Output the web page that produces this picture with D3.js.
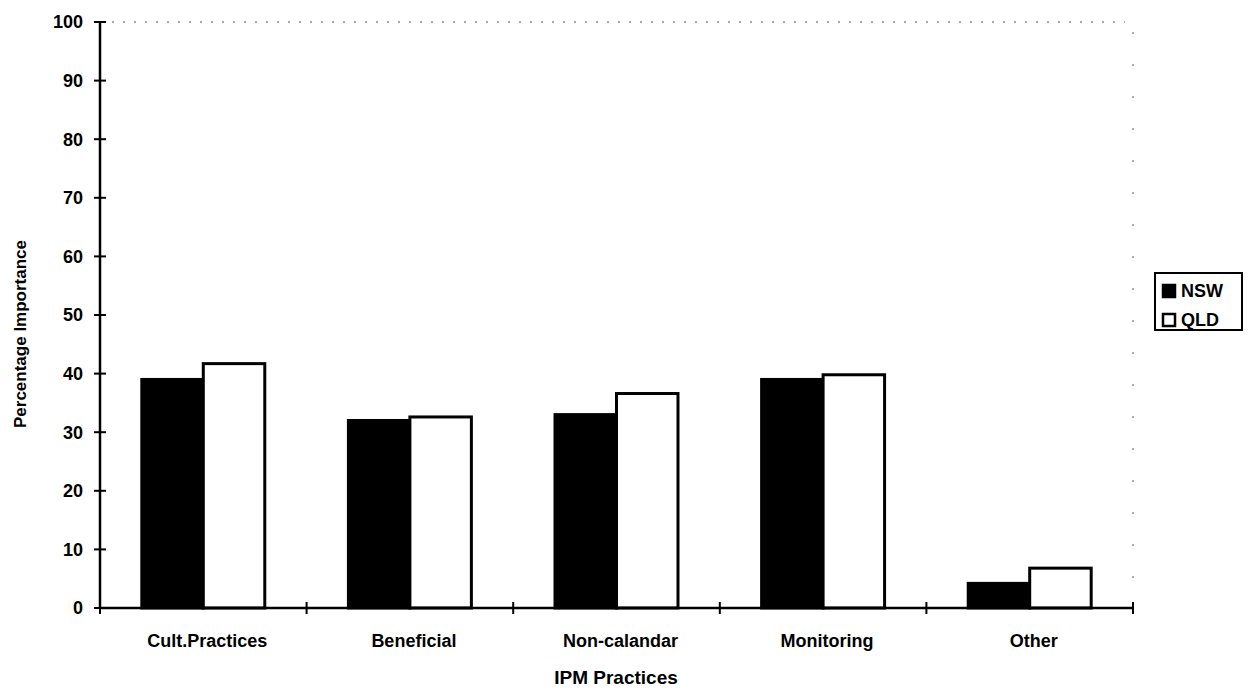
<!DOCTYPE html>
<html>
<head>
<meta charset="utf-8">
<script src="https://cdn.jsdelivr.net/npm/d3@7/dist/d3.min.js"></script>
<style>
  html, body { margin: 0; padding: 0; background: #fff; }
  svg { display: block; font-family: "Liberation Sans", Arial, sans-serif; }
</style>
</head>
<body>
<svg id="chart" width="1253" height="695"></svg>
<script>
// IPM practice categories and the two states compared
const categories = ["Cult.Practices", "Beneficial", "Non-calandar", "Monitoring", "Other"];
const seriesNames = ["NSW", "QLD"];
const nswValues = [39, 32, 33, 39, 4.2];
const qldValues = [41.7, 32.6, 36.6, 39.8, 6.8];
const yTicks = [0, 10, 20, 30, 40, 50, 60, 70, 80, 90, 100];

const svg = d3.select("#chart");
const plot = { left: 100, right: 1133, top: 22, bottom: 608 };

const x = d3.scaleBand().domain(categories).range([plot.left, plot.right]).paddingInner(0).paddingOuter(0);
const inner = d3.scaleBand().domain(seriesNames).range([0, x.bandwidth()]).paddingInner(0).paddingOuter(0.68);
const y = d3.scaleLinear().domain([0, 100]).range([plot.bottom, plot.top]);

const fills = { NSW: "#000", QLD: "#fff" };

// faint dotted plot-area frame (top and right)
svg.append("line")
  .attr("x1", plot.left + 12).attr("x2", plot.right - 8)
  .attr("y1", plot.top).attr("y2", plot.top)
  .attr("stroke", "#555").attr("stroke-width", 1).attr("stroke-dasharray", "2,9");
svg.append("line")
  .attr("x1", plot.right).attr("x2", plot.right)
  .attr("y1", plot.top + 10).attr("y2", plot.bottom - 10)
  .attr("stroke", "#555").attr("stroke-width", 1).attr("stroke-dasharray", "2,30");

// bars
const rows = categories.map((c, i) => ({ cat: c, vals: [
  { key: "NSW", v: nswValues[i] }, { key: "QLD", v: qldValues[i] }
]}));

const groups = svg.append("g").selectAll("g").data(rows).join("g")
  .attr("transform", d => `translate(${x(d.cat)},0)`);

groups.selectAll("rect").data(d => d.vals).join("rect")
  .attr("x", d => inner(d.key))
  .attr("y", d => y(d.v))
  .attr("width", inner.bandwidth())
  .attr("height", d => y(0) - y(d.v))
  .attr("fill", d => fills[d.key])
  .attr("stroke", "#000")
  .attr("stroke-width", 3);

// y axis with crossing ticks
const yAxis = svg.append("g").attr("transform", `translate(${plot.left},0)`);
yAxis.append("line").attr("x1", 0).attr("x2", 0)
  .attr("y1", y(100)).attr("y2", y(0)).attr("stroke", "#000").attr("stroke-width", 2.5);
yAxis.selectAll("line.tick").data(yTicks).join("line").attr("class", "tick")
  .attr("x1", -6).attr("x2", 6).attr("y1", d => y(d)).attr("y2", d => y(d))
  .attr("stroke", "#000").attr("stroke-width", 2);
yAxis.selectAll("text").data(yTicks).join("text")
  .attr("x", -17).attr("y", d => y(d)).attr("dy", "0.36em")
  .attr("text-anchor", "end").attr("font-size", 18).attr("font-weight", "bold")
  .text(d => d);

// x axis with crossing ticks at band boundaries
const xAxis = svg.append("g");
xAxis.append("line").attr("x1", plot.left).attr("x2", plot.right)
  .attr("y1", y(0)).attr("y2", y(0)).attr("stroke", "#000").attr("stroke-width", 2.5);
const boundaries = categories.map(c => x(c)).concat([x(categories[categories.length - 1]) + x.bandwidth()]);
xAxis.selectAll("line.tick").data(boundaries).join("line").attr("class", "tick")
  .attr("x1", d => d).attr("x2", d => d).attr("y1", y(0) - 6).attr("y2", y(0) + 6)
  .attr("stroke", "#000").attr("stroke-width", 2);
xAxis.selectAll("text").data(categories).join("text")
  .attr("x", d => x(d) + x.bandwidth() / 2 + 4).attr("y", 647)
  .attr("text-anchor", "middle").attr("font-size", 18).attr("font-weight", "bold")
  .text(d => d);

// axis titles
svg.append("text")
  .attr("x", 616).attr("y", 684)
  .attr("text-anchor", "middle").attr("font-size", 19).attr("font-weight", "bold")
  .text("IPM Practices");
svg.append("text")
  .attr("transform", `translate(26,334) rotate(-90)`)
  .attr("text-anchor", "middle").attr("font-size", 17).attr("font-weight", "bold")
  .text("Percentage Importance");

// legend
const legend = svg.append("g").attr("transform", "translate(1155,273)");
legend.append("rect").attr("x", 0).attr("y", 0).attr("width", 87).attr("height", 57)
  .attr("fill", "#fff").attr("stroke", "#000").attr("stroke-width", 2);
const items = legend.selectAll("g").data(seriesNames).join("g")
  .attr("transform", (d, i) => `translate(8,${18 + i * 29})`);
items.append("rect").attr("x", 0).attr("y", -6).attr("width", 12).attr("height", 12)
  .attr("fill", d => fills[d]).attr("stroke", "#000").attr("stroke-width", 2.5);
items.append("text").attr("x", 18).attr("y", 0).attr("dy", "0.36em")
  .attr("font-size", 18).attr("font-weight", "bold")
  .text(d => d);
</script>
</body>
</html>
